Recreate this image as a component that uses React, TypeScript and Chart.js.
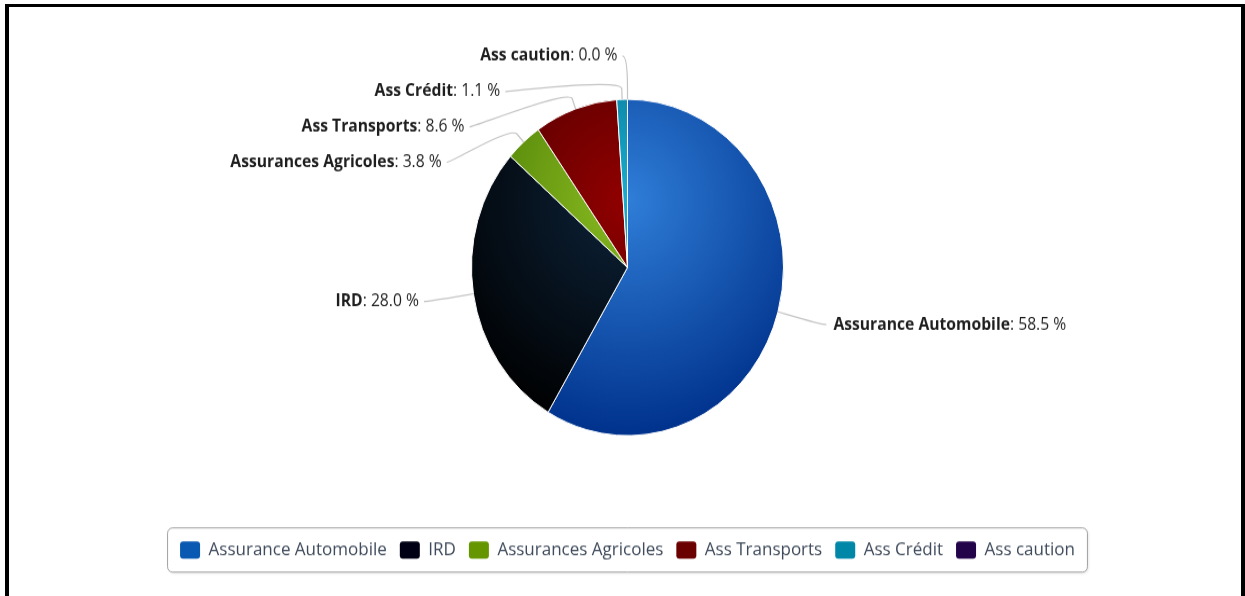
import React, { useEffect, useRef } from "react";
import { Chart, registerables } from "chart.js";

Chart.register(...registerables);

// ---- data ----
const categories = [
  "Assurance Automobile",
  "IRD",
  "Assurances Agricoles",
  "Ass Transports",
  "Ass Crédit",
  "Ass caution",
];
const shares = [58.5, 28.0, 3.8, 8.6, 1.1, 0.0];
const seriesColors = ["#2f7ed8", "#0d233a", "#8bbc21", "#910000", "#1aadce", "#492970"];

// ---- presentation ----
const FONT = "'Open Sans', 'DejaVu Sans', sans-serif";
const Y_STRETCH = 1.078;
const CANVAS_W = 1245;
const CANVAS_H = 553;
const PIE_RADIUS = 156;
const LABEL_DISTANCE = 45;
const CONNECTOR_OFFSET = 10;
const SLOT_HEIGHT = 32.9;
const TOP_SLOT_OFFSET = 4.8;
const LABEL_FONT_SIZE = 15.7;
const LEGEND_FONT_SIZE = 17;
const LEGEND_TEXT = "#3f4b5c";
const LABEL_TEXT = "#1e1e1e";
const CONNECTOR_COLOR = "#c4c4c4";

function rgbOf(hex: string): number[] {
  const n = parseInt(hex.slice(1), 16);
  return [(n >> 16) & 255, (n >> 8) & 255, n & 255];
}
function brighten(hex: string, amt: number): string {
  const d = Math.trunc(255 * amt);
  return "rgb(" + rgbOf(hex).map((c) => Math.max(0, Math.min(255, c + d))).join(",") + ")";
}
function legendFill(hex: string): string {
  const d = Math.trunc(255 * -0.15);
  return "rgb(" + rgbOf(hex).map((c) => Math.max(0, Math.min(255, c + d))).join(",") + ")";
}

const pieLabels = {
  id: "pieLabels",
  afterDatasetsDraw(chart: any) {
    const meta = chart.getDatasetMeta(0);
    const arcs = meta.data;
    if (!arcs.length) return;
    const ctx: CanvasRenderingContext2D = chart.ctx;
    const cx = arcs[0].x;
    const cy = arcs[0].y;
    const R = arcs[0].outerRadius;
    const rd = R + LABEL_DISTANCE;
    const total = shares.reduce((a, b) => a + b, 0);

    const items = arcs.map((arc: any, i: number) => {
      const mid = (arc.startAngle + arc.endAngle) / 2;
      const left = mid > Math.PI / 2;
      return {
        i,
        mid,
        left,
        naturalY: cy + rd * Math.sin(mid),
        y: 0,
        useNatural: false,
      };
    });

    const top = cy - rd + TOP_SLOT_OFFSET;
    const bottom = cy + rd - TOP_SLOT_OFFSET;
    [true, false].forEach((side) => {
      const group = items.filter((it: any) => it.left === side).sort((a: any, b: any) => a.naturalY - b.naturalY);
      let prev = -Infinity;
      group.forEach((it: any) => {
        let y = Math.max(it.naturalY, prev + SLOT_HEIGHT);
        if (y < top) {
          y = top;
          it.useNatural = true;
        }
        it.y = y;
        prev = y;
      });
      let next = Infinity;
      for (let k = group.length - 1; k >= 0; k--) {
        const it = group[k];
        if (it.y > bottom) { it.y = bottom; it.useNatural = true; }
        if (it.y > next - SLOT_HEIGHT) it.y = next - SLOT_HEIGHT;
        next = it.y;
      }
    });

    const getX = (y: number, left: boolean) => {
      const r = Math.max(-1, Math.min(1, (y - cy) / rd));
      return cx + (left ? -1 : 1) * Math.cos(Math.asin(r)) * rd;
    };

    ctx.save();
    items.forEach((it: any) => {
      const x = getX(it.useNatural ? it.naturalY : it.y, it.left);
      const y = it.y;
      const ax = cx + R * Math.cos(it.mid);
      const ay = cy + R * Math.sin(it.mid);
      const bx = cx + (R + CONNECTOR_OFFSET) * Math.cos(it.mid);
      const by = cy + (R + CONNECTOR_OFFSET) * Math.sin(it.mid);
      const sx = x + (it.left ? -5 : 5);

      ctx.beginPath();
      ctx.moveTo(sx, y);
      ctx.bezierCurveTo(x, y, 2 * bx - ax, 2 * by - ay, bx, by);
      ctx.lineTo(ax, ay);
      ctx.strokeStyle = CONNECTOR_COLOR;
      ctx.lineWidth = 1.2;
      ctx.stroke();

      const name = categories[it.i];
      const pct = ": " + ((shares[it.i] / total) * 100).toFixed(1) + " %";
      const boldFont = "bold " + LABEL_FONT_SIZE + "px " + FONT;
      const normFont = LABEL_FONT_SIZE + "px " + FONT;
      ctx.font = boldFont;
      const w1 = ctx.measureText(name).width;
      ctx.font = normFont;
      const w2 = ctx.measureText(pct).width;
      const startX = it.left ? x - 10 - (w1 + w2) : x + 12;
      ctx.textBaseline = "middle";
      ctx.textAlign = "left";
      ctx.fillStyle = LABEL_TEXT;
      ctx.font = boldFont;
      ctx.fillText(name, startX, y);
      ctx.font = normFont;
      ctx.fillText(pct, startX + w1, y);
    });
    ctx.restore();
  },
};

const legendFrame = {
  id: "legendFrame",
  beforeDraw(chart: any) {
    const legend = chart.legend;
    if (!legend || !legend.legendHitBoxes || !legend.legendHitBoxes.length) return;
    const hb = legend.legendHitBoxes;
    const first = hb[0];
    const last = hb[hb.length - 1];
    const left = first.left - 12.5;
    const right = last.left + last.width + 12.5;
    const topY = first.top - 12;
    const h = first.height + 24;
    const ctx: CanvasRenderingContext2D = chart.ctx;
    ctx.save();
    ctx.shadowColor = "rgba(0,0,0,0.12)";
    ctx.shadowBlur = 3;
    ctx.shadowOffsetX = 1;
    ctx.shadowOffsetY = 1;
    ctx.beginPath();
    (ctx as any).roundRect(left, topY, right - left, h, 5);
    ctx.fillStyle = "#ffffff";
    ctx.fill();
    ctx.shadowColor = "transparent";
    ctx.strokeStyle = "#a0a0a0";
    ctx.lineWidth = 1;
    ctx.stroke();
    ctx.restore();
  },
};

export default function App() {
  const canvasRef = useRef<HTMLCanvasElement | null>(null);

  useEffect(() => {
    if (!canvasRef.current) return;
    const chart = new Chart(canvasRef.current, {
      type: "pie",
      data: {
        labels: categories,
        datasets: [
          {
            data: shares,
            backgroundColor: (c: any) => {
              const base = seriesColors[c.dataIndex % seriesColors.length];
              const ch = c.chart;
              const ca = ch.chartArea;
              if (!ca) return base;
              const gx = (ca.left + ca.right) / 2;
              const gy = (ca.top + ca.bottom) / 2 - 0.4 * PIE_RADIUS;
              const g = ch.ctx.createRadialGradient(gx, gy, 0, gx, gy, 1.4 * PIE_RADIUS);
              g.addColorStop(0, base);
              g.addColorStop(1, brighten(base, -0.3));
              return g;
            },
            borderColor: "#ffffff",
            borderWidth: 1,
          } as any,
        ],
      },
      options: {
        animation: false,
        responsive: true,
        maintainAspectRatio: false,
        events: [],
        radius: PIE_RADIUS,
        layout: { padding: { left: 10, right: 0, top: 7.5, bottom: 24.3 } },
        plugins: {
          tooltip: { enabled: false },
          legend: {
            display: true,
            position: "bottom",
            labels: {
              boxWidth: 20,
              boxHeight: 16,
              padding: 13,
              useBorderRadius: true,
              borderRadius: 3,
              color: LEGEND_TEXT,
              font: { family: FONT, size: LEGEND_FONT_SIZE },
              generateLabels: () =>
                categories.map((name, i) => ({
                  text: name,
                  fillStyle: legendFill(seriesColors[i]),
                  strokeStyle: legendFill(seriesColors[i]),
                  lineWidth: 0,
                  hidden: false,
                  index: i,
                  borderRadius: 3,
                  fontColor: LEGEND_TEXT,
                })),
            },
          },
        },
      } as any,
      plugins: [legendFrame, pieLabels],
    });
    return () => chart.destroy();
  }, []);

  return (
    <div>
      <div
        style={{
          position: "absolute",
          left: 0,
          top: 0,
          width: CANVAS_W,
          height: CANVAS_H,
          transform: `scaleY(${Y_STRETCH})`,
          transformOrigin: "0 0",
        }}
      >
        <canvas ref={canvasRef} />
      </div>
      <div
        style={{
          position: "absolute",
          left: 5,
          top: 4,
          width: 1240,
          height: 592,
          boxSizing: "border-box",
          borderTop: "3px solid #000",
          borderLeft: "4px solid #000",
          borderRight: "4px solid #000",
          pointerEvents: "none",
        }}
      />
    </div>
  );
}
